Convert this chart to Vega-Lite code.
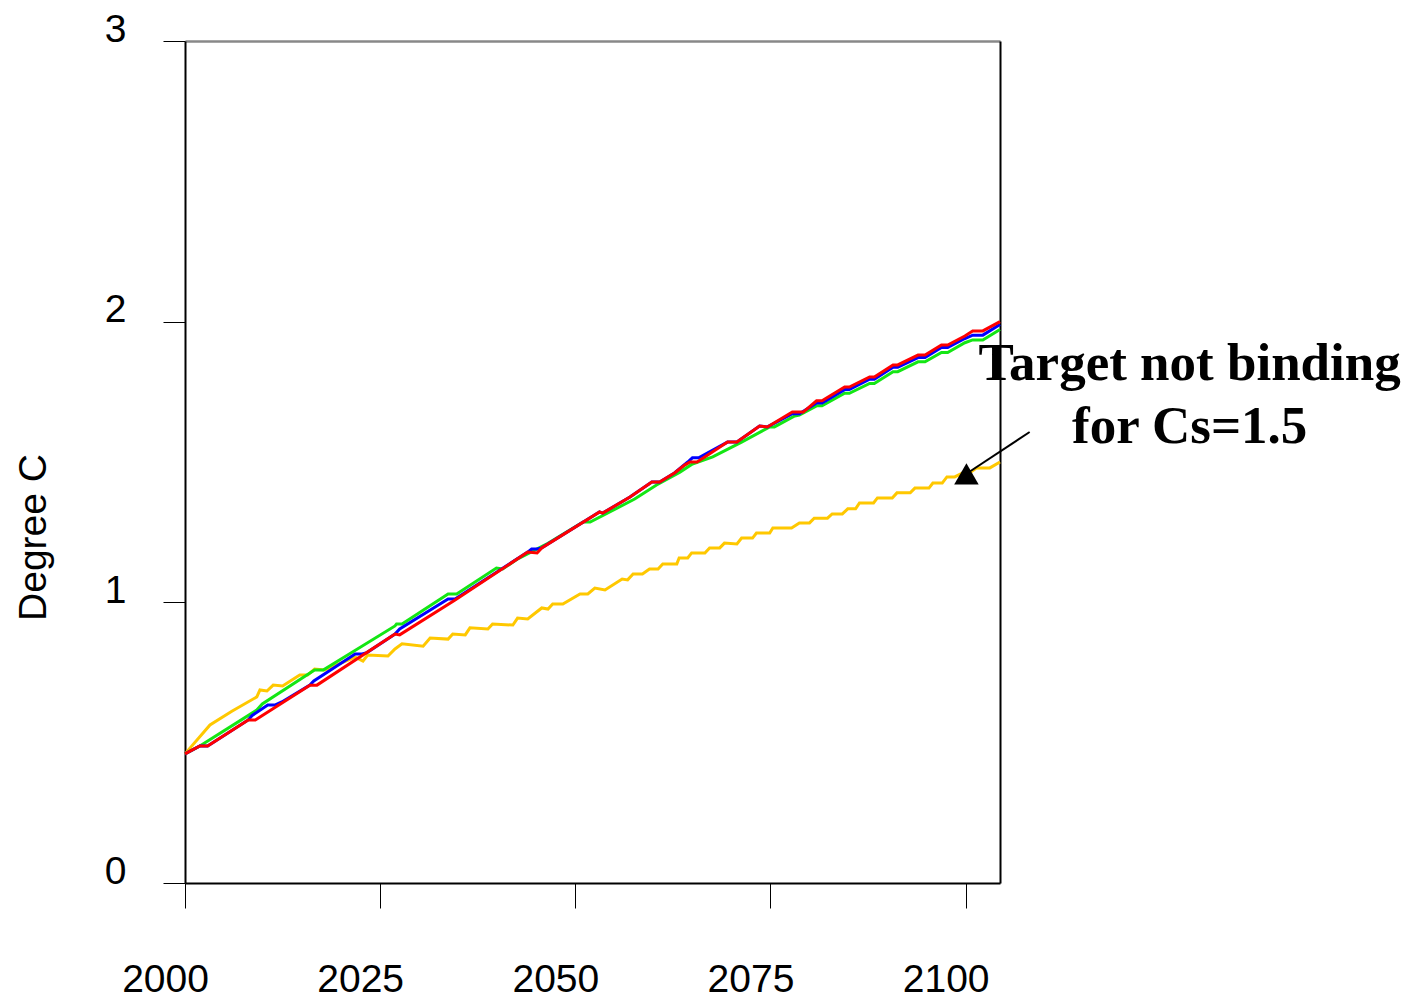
{
  "$schema": "https://vega.github.io/schema/vega-lite/v6.json",
  "width": 815,
  "height": 842,
  "autosize": {"type": "none"},
  "padding": {"left": 185, "top": 41, "right": 410, "bottom": 117},
  "background": "white",
  "config": {
    "view": {"stroke": null},
    "font": "Liberation Sans",
    "axis": {"grid": false, "zindex": 1}
  },
  "datasets": {
    "temps": [
      {"series": "A", "year": 2000, "value": 0.46},
      {"series": "A", "year": 2003.2, "value": 0.563},
      {"series": "A", "year": 2006, "value": 0.612},
      {"series": "A", "year": 2009.2, "value": 0.663},
      {"series": "A", "year": 2009.6, "value": 0.688},
      {"series": "A", "year": 2010.5, "value": 0.684},
      {"series": "A", "year": 2011.3, "value": 0.705},
      {"series": "A", "year": 2012.5, "value": 0.702},
      {"series": "A", "year": 2014.7, "value": 0.741},
      {"series": "A", "year": 2015.7, "value": 0.741},
      {"series": "A", "year": 2016.6, "value": 0.762},
      {"series": "A", "year": 2017.9, "value": 0.759},
      {"series": "A", "year": 2021.8, "value": 0.805},
      {"series": "A", "year": 2022.8, "value": 0.791},
      {"series": "A", "year": 2023.4, "value": 0.812},
      {"series": "A", "year": 2026.0, "value": 0.809},
      {"series": "A", "year": 2026.9, "value": 0.834},
      {"series": "A", "year": 2027.8, "value": 0.852},
      {"series": "A", "year": 2030.5, "value": 0.844},
      {"series": "A", "year": 2031.4, "value": 0.873},
      {"series": "A", "year": 2033.7, "value": 0.869},
      {"series": "A", "year": 2034.3, "value": 0.887},
      {"series": "A", "year": 2035.9, "value": 0.884},
      {"series": "A", "year": 2036.5, "value": 0.909},
      {"series": "A", "year": 2038.8, "value": 0.905},
      {"series": "A", "year": 2039.4, "value": 0.923},
      {"series": "A", "year": 2042.0, "value": 0.919},
      {"series": "A", "year": 2042.6, "value": 0.944},
      {"series": "A", "year": 2043.9, "value": 0.941},
      {"series": "A", "year": 2045.7, "value": 0.98},
      {"series": "A", "year": 2046.5, "value": 0.976},
      {"series": "A", "year": 2047.1, "value": 0.994},
      {"series": "A", "year": 2048.4, "value": 0.994},
      {"series": "A", "year": 2050.6, "value": 1.03},
      {"series": "A", "year": 2051.6, "value": 1.03},
      {"series": "A", "year": 2052.5, "value": 1.051},
      {"series": "A", "year": 2053.8, "value": 1.044},
      {"series": "A", "year": 2056.0, "value": 1.083},
      {"series": "A", "year": 2056.7, "value": 1.08},
      {"series": "A", "year": 2057.4, "value": 1.101},
      {"series": "A", "year": 2058.6, "value": 1.101},
      {"series": "A", "year": 2059.5, "value": 1.119},
      {"series": "A", "year": 2060.6, "value": 1.119},
      {"series": "A", "year": 2061.2, "value": 1.137},
      {"series": "A", "year": 2063.0, "value": 1.137},
      {"series": "A", "year": 2063.3, "value": 1.158},
      {"series": "A", "year": 2064.4, "value": 1.158},
      {"series": "A", "year": 2064.9, "value": 1.176},
      {"series": "A", "year": 2066.6, "value": 1.176},
      {"series": "A", "year": 2067.2, "value": 1.194},
      {"series": "A", "year": 2068.5, "value": 1.194},
      {"series": "A", "year": 2069.1, "value": 1.211},
      {"series": "A", "year": 2070.7, "value": 1.208},
      {"series": "A", "year": 2071.3, "value": 1.229},
      {"series": "A", "year": 2072.7, "value": 1.229},
      {"series": "A", "year": 2073.2, "value": 1.247},
      {"series": "A", "year": 2074.9, "value": 1.247},
      {"series": "A", "year": 2075.3, "value": 1.265},
      {"series": "A", "year": 2077.7, "value": 1.265},
      {"series": "A", "year": 2078.7, "value": 1.283},
      {"series": "A", "year": 2080.0, "value": 1.283},
      {"series": "A", "year": 2080.6, "value": 1.3},
      {"series": "A", "year": 2082.3, "value": 1.3},
      {"series": "A", "year": 2082.9, "value": 1.315},
      {"series": "A", "year": 2084.2, "value": 1.315},
      {"series": "A", "year": 2084.9, "value": 1.333},
      {"series": "A", "year": 2085.9, "value": 1.333},
      {"series": "A", "year": 2086.4, "value": 1.354},
      {"series": "A", "year": 2088.2, "value": 1.354},
      {"series": "A", "year": 2088.7, "value": 1.372},
      {"series": "A", "year": 2090.6, "value": 1.372},
      {"series": "A", "year": 2091.2, "value": 1.39},
      {"series": "A", "year": 2092.9, "value": 1.39},
      {"series": "A", "year": 2093.5, "value": 1.407},
      {"series": "A", "year": 2095.3, "value": 1.407},
      {"series": "A", "year": 2095.8, "value": 1.425},
      {"series": "A", "year": 2097.0, "value": 1.425},
      {"series": "A", "year": 2097.6, "value": 1.447},
      {"series": "A", "year": 2098.6, "value": 1.447},
      {"series": "A", "year": 2099.6, "value": 1.461},
      {"series": "A", "year": 2100.5, "value": 1.461},
      {"series": "A", "year": 2101.4, "value": 1.479},
      {"series": "A", "year": 2103.1, "value": 1.479},
      {"series": "A", "year": 2104.4, "value": 1.5},

      {"series": "B", "year": 2000, "value": 0.46},
      {"series": "B", "year": 2001.9, "value": 0.488},
      {"series": "B", "year": 2009.2, "value": 0.616},
      {"series": "B", "year": 2009.9, "value": 0.638},
      {"series": "B", "year": 2016.6, "value": 0.759},
      {"series": "B", "year": 2017.7, "value": 0.759},
      {"series": "B", "year": 2026.9, "value": 0.916},
      {"series": "B", "year": 2027.1, "value": 0.923},
      {"series": "B", "year": 2027.8, "value": 0.923},
      {"series": "B", "year": 2033.7, "value": 1.03},
      {"series": "B", "year": 2034.8, "value": 1.03},
      {"series": "B", "year": 2039.9, "value": 1.122},
      {"series": "B", "year": 2040.7, "value": 1.119},
      {"series": "B", "year": 2042.5, "value": 1.153},
      {"series": "B", "year": 2046.5, "value": 1.21},
      {"series": "B", "year": 2051.0, "value": 1.286},
      {"series": "B", "year": 2051.9, "value": 1.286},
      {"series": "B", "year": 2057.6, "value": 1.368},
      {"series": "B", "year": 2060.4, "value": 1.418},
      {"series": "B", "year": 2063.4, "value": 1.464},
      {"series": "B", "year": 2065.0, "value": 1.493},
      {"series": "B", "year": 2067.6, "value": 1.518},
      {"series": "B", "year": 2071.3, "value": 1.571},
      {"series": "B", "year": 2074.9, "value": 1.625},
      {"series": "B", "year": 2075.5, "value": 1.625},
      {"series": "B", "year": 2078.1, "value": 1.664},
      {"series": "B", "year": 2078.7, "value": 1.667},
      {"series": "B", "year": 2080.9, "value": 1.7},
      {"series": "B", "year": 2081.6, "value": 1.7},
      {"series": "B", "year": 2084.5, "value": 1.745},
      {"series": "B", "year": 2085.1, "value": 1.745},
      {"series": "B", "year": 2087.7, "value": 1.78},
      {"series": "B", "year": 2088.3, "value": 1.78},
      {"series": "B", "year": 2090.7, "value": 1.822},
      {"series": "B", "year": 2091.3, "value": 1.822},
      {"series": "B", "year": 2093.9, "value": 1.857},
      {"series": "B", "year": 2094.8, "value": 1.857},
      {"series": "B", "year": 2096.9, "value": 1.89},
      {"series": "B", "year": 2097.7, "value": 1.89},
      {"series": "B", "year": 2099.9, "value": 1.925},
      {"series": "B", "year": 2100.9, "value": 1.935},
      {"series": "B", "year": 2102.2, "value": 1.935},
      {"series": "B", "year": 2104.4, "value": 1.972},

      {"series": "C", "year": 2000, "value": 0.46},
      {"series": "C", "year": 2001.9, "value": 0.488},
      {"series": "C", "year": 2002.9, "value": 0.488},
      {"series": "C", "year": 2008.1, "value": 0.581},
      {"series": "C", "year": 2008.6, "value": 0.597},
      {"series": "C", "year": 2010.6, "value": 0.634},
      {"series": "C", "year": 2011.5, "value": 0.634},
      {"series": "C", "year": 2012.4, "value": 0.645},
      {"series": "C", "year": 2016.0, "value": 0.705},
      {"series": "C", "year": 2016.5, "value": 0.72},
      {"series": "C", "year": 2021.8, "value": 0.816},
      {"series": "C", "year": 2022.7, "value": 0.816},
      {"series": "C", "year": 2023.3, "value": 0.821},
      {"series": "C", "year": 2026.9, "value": 0.887},
      {"series": "C", "year": 2027.5, "value": 0.905},
      {"series": "C", "year": 2033.7, "value": 1.012},
      {"series": "C", "year": 2034.6, "value": 1.012},
      {"series": "C", "year": 2043.9, "value": 1.179},
      {"series": "C", "year": 2044.4, "value": 1.19},
      {"series": "C", "year": 2045.1, "value": 1.19},
      {"series": "C", "year": 2045.7, "value": 1.194},
      {"series": "C", "year": 2053.1, "value": 1.322},
      {"series": "C", "year": 2053.5, "value": 1.318},
      {"series": "C", "year": 2057.0, "value": 1.375},
      {"series": "C", "year": 2059.8, "value": 1.429},
      {"series": "C", "year": 2060.8, "value": 1.429},
      {"series": "C", "year": 2062.7, "value": 1.461},
      {"series": "C", "year": 2064.4, "value": 1.5},
      {"series": "C", "year": 2065.0, "value": 1.515},
      {"series": "C", "year": 2065.8, "value": 1.515},
      {"series": "C", "year": 2069.5, "value": 1.571},
      {"series": "C", "year": 2070.7, "value": 1.571},
      {"series": "C", "year": 2073.6, "value": 1.628},
      {"series": "C", "year": 2074.6, "value": 1.625},
      {"series": "C", "year": 2077.8, "value": 1.672},
      {"series": "C", "year": 2078.7, "value": 1.672},
      {"series": "C", "year": 2080.9, "value": 1.71},
      {"series": "C", "year": 2081.6, "value": 1.71},
      {"series": "C", "year": 2084.5, "value": 1.758},
      {"series": "C", "year": 2085.1, "value": 1.758},
      {"series": "C", "year": 2087.7, "value": 1.795},
      {"series": "C", "year": 2088.3, "value": 1.795},
      {"series": "C", "year": 2090.7, "value": 1.838},
      {"series": "C", "year": 2091.3, "value": 1.838},
      {"series": "C", "year": 2093.9, "value": 1.872},
      {"series": "C", "year": 2094.8, "value": 1.872},
      {"series": "C", "year": 2096.9, "value": 1.908},
      {"series": "C", "year": 2097.7, "value": 1.908},
      {"series": "C", "year": 2099.9, "value": 1.94},
      {"series": "C", "year": 2100.9, "value": 1.952},
      {"series": "C", "year": 2102.2, "value": 1.952},
      {"series": "C", "year": 2104.4, "value": 1.99},

      {"series": "D", "year": 2000, "value": 0.46},
      {"series": "D", "year": 2001.9, "value": 0.488},
      {"series": "D", "year": 2002.9, "value": 0.488},
      {"series": "D", "year": 2008.1, "value": 0.581},
      {"series": "D", "year": 2009.0, "value": 0.581},
      {"series": "D", "year": 2016.0, "value": 0.705},
      {"series": "D", "year": 2016.9, "value": 0.705},
      {"series": "D", "year": 2026.9, "value": 0.887},
      {"series": "D", "year": 2027.5, "value": 0.884},
      {"series": "D", "year": 2034.6, "value": 1.008},
      {"series": "D", "year": 2043.9, "value": 1.179},
      {"series": "D", "year": 2045.1, "value": 1.176},
      {"series": "D", "year": 2045.7, "value": 1.194},
      {"series": "D", "year": 2053.1, "value": 1.322},
      {"series": "D", "year": 2053.5, "value": 1.318},
      {"series": "D", "year": 2057.0, "value": 1.375},
      {"series": "D", "year": 2059.8, "value": 1.429},
      {"series": "D", "year": 2060.8, "value": 1.429},
      {"series": "D", "year": 2062.7, "value": 1.461},
      {"series": "D", "year": 2064.0, "value": 1.489},
      {"series": "D", "year": 2064.7, "value": 1.5},
      {"series": "D", "year": 2065.6, "value": 1.5},
      {"series": "D", "year": 2069.5, "value": 1.571},
      {"series": "D", "year": 2070.7, "value": 1.571},
      {"series": "D", "year": 2073.6, "value": 1.628},
      {"series": "D", "year": 2074.6, "value": 1.625},
      {"series": "D", "year": 2077.8, "value": 1.678},
      {"series": "D", "year": 2079.2, "value": 1.678},
      {"series": "D", "year": 2080.9, "value": 1.718},
      {"series": "D", "year": 2081.6, "value": 1.718},
      {"series": "D", "year": 2084.5, "value": 1.767},
      {"series": "D", "year": 2085.1, "value": 1.767},
      {"series": "D", "year": 2087.7, "value": 1.803},
      {"series": "D", "year": 2088.3, "value": 1.803},
      {"series": "D", "year": 2090.7, "value": 1.846},
      {"series": "D", "year": 2091.3, "value": 1.846},
      {"series": "D", "year": 2093.9, "value": 1.881},
      {"series": "D", "year": 2094.8, "value": 1.881},
      {"series": "D", "year": 2096.9, "value": 1.917},
      {"series": "D", "year": 2097.7, "value": 1.917},
      {"series": "D", "year": 2099.9, "value": 1.949},
      {"series": "D", "year": 2100.9, "value": 1.967},
      {"series": "D", "year": 2102.2, "value": 1.967},
      {"series": "D", "year": 2104.4, "value": 2.0}
    ],
    "note": [
      {"year": 2128.7, "value": 1.792, "text": "Target not binding"},
      {"year": 2128.7, "value": 1.568, "text": "for Cs=1.5"}
    ],
    "arrow": [
      {"fromYear": 2108.2, "fromValue": 1.607, "toYear": 2100.1, "toValue": 1.458}
    ]
  },
  "layer": [
    {
      "data": {"name": "temps"},
      "mark": {"type": "line", "strokeWidth": 3, "clip": false},
      "encoding": {
        "x": {
          "field": "year", "type": "quantitative",
          "scale": {"domain": [2000, 2104.4], "nice": false, "zero": false},
          "axis": {
            "orient": "bottom", "title": null,
            "values": [2000, 2025, 2050, 2075, 2100], "format": "d",
            "tickSize": 25, "tickColor": "#000", "tickWidth": 1,
            "domainColor": "#000", "domainWidth": 2,
            "labelFontSize": 39, "labelColor": "#000", "labelFont": "Liberation Sans",
            "labelBaseline": "top", "labelPadding": 52, "labelOffset": -20,
            "labelFlush": false, "labelOverlap": false, "labelBound": false
          }
        },
        "y": {
          "field": "value", "type": "quantitative",
          "scale": {"domain": [0, 3], "nice": false},
          "axis": {
            "orient": "left", "title": "Degree C",
            "values": [0, 1, 2, 3],
            "tickSize": 22, "tickColor": "#000", "tickWidth": 1,
            "domainColor": "#000", "domainWidth": 2,
            "labelFontSize": 39, "labelColor": "#000", "labelFont": "Liberation Sans",
            "labelBaseline": "alphabetic", "labelPadding": 37,
            "labelOverlap": false, "labelBound": false,
            "titleFontSize": 39, "titleFontWeight": "normal", "titleColor": "#000",
            "titleFont": "Liberation Sans",
            "titleAngle": -90, "titleAlign": "center", "titleBaseline": "middle",
            "titleX": -152, "titleY": 496
          }
        },
        "color": {
          "field": "series", "type": "nominal",
          "scale": {"domain": ["A", "B", "C", "D"], "range": ["#FFC800", "#14E614", "#0000FF", "#FF0000"]},
          "legend": null
        }
      }
    },
    {
      "data": {"name": "temps"},
      "mark": {"type": "point", "opacity": 0},
      "encoding": {
        "x": {
          "field": "year", "type": "quantitative",
          "scale": {"domain": [2000, 2104.4], "nice": false, "zero": false},
          "axis": {"orient": "top", "title": null, "labels": false, "ticks": false, "domainColor": "#888888", "domainWidth": 2.5}
        },
        "y": {
          "field": "value", "type": "quantitative",
          "scale": {"domain": [0, 3], "nice": false},
          "axis": {"orient": "right", "title": null, "labels": false, "ticks": false, "domainColor": "#000", "domainWidth": 2}
        }
      }
    },
    {
      "data": {"name": "note"},
      "mark": {"type": "text", "font": "Liberation Serif", "fontWeight": "bold", "fontSize": 53, "align": "center", "baseline": "alphabetic", "color": "#000"},
      "encoding": {
        "x": {"field": "year", "type": "quantitative", "scale": {"domain": [2000, 2104.4], "nice": false, "zero": false}, "axis": null},
        "y": {"field": "value", "type": "quantitative", "scale": {"domain": [0, 3], "nice": false}, "axis": null},
        "text": {"field": "text"}
      }
    },
    {
      "data": {"name": "arrow"},
      "mark": {"type": "rule", "color": "#000", "strokeWidth": 2},
      "encoding": {
        "x": {"field": "fromYear", "type": "quantitative", "scale": {"domain": [2000, 2104.4], "nice": false, "zero": false}, "axis": null},
        "y": {"field": "fromValue", "type": "quantitative", "scale": {"domain": [0, 3], "nice": false}, "axis": null},
        "x2": {"field": "toYear"},
        "y2": {"field": "toValue"}
      }
    },
    {
      "data": {"name": "arrow"},
      "mark": {"type": "point", "shape": "triangle-up", "filled": true, "size": 600, "color": "#000", "opacity": 1},
      "encoding": {
        "x": {"field": "toYear", "type": "quantitative", "scale": {"domain": [2000, 2104.4], "nice": false, "zero": false}, "axis": null},
        "y": {"field": "toValue", "type": "quantitative", "scale": {"domain": [0, 3], "nice": false}, "axis": null}
      }
    }
  ],
  "resolve": {"axis": {"x": "independent", "y": "independent"}}
}
